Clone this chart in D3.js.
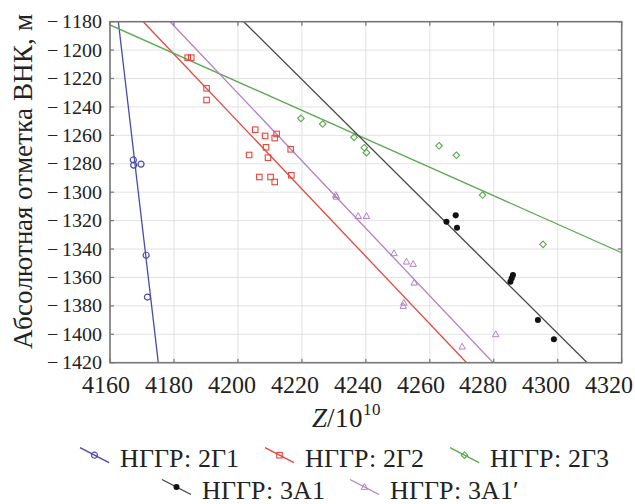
<!DOCTYPE html>
<html>
<head>
<meta charset="utf-8">
<script src="https://cdn.jsdelivr.net/npm/d3@7"></script>
<style>
  @font-face { font-family: "ChartSerif"; src: local("Liberation Serif"), local("LiberationSerif"), local("LiberationSerif-Regular"), local("Tinos"), local("FreeSerif"); }
  @font-face { font-family: "ChartSerif"; font-style: italic; src: local("Liberation Serif Italic"), local("LiberationSerif-Italic"), local("FreeSerif Italic"); }
  body { margin: 0; font-family: ChartSerif, "Liberation Serif", Tinos, FreeSerif, "Times New Roman", serif; }
  text { font-family: ChartSerif, "Liberation Serif", Tinos, FreeSerif, "Times New Roman", serif; }
</style>
</head>
<body>
<div id="chart"></div>
<script>
// axis ticks
var xTicks = [4160, 4180, 4200, 4220, 4240, 4260, 4280, 4300, 4320];
var yTicks = [-1180, -1200, -1220, -1240, -1260, -1280, -1300, -1320, -1340, -1360, -1380, -1400, -1420];

// series names
var seriesNames = ["НГГР: 2Г1", "НГГР: 2Г2", "НГГР: 2Г3", "НГГР: 3А1", "НГГР: 3А1′"];

// points, [Z/10^10, depth]
var pts2G1 = [[4167.3, -1277.3], [4167.4, -1280.9], [4169.7, -1280.2], [4171.3, -1344.4], [4171.7, -1373.8]];
var pts2G2 = [[4184.3, -1205.3], [4185.4, -1205.3], [4190.2, -1226.9], [4190.2, -1235.1],
  [4205.4, -1256.0], [4208.5, -1260.4], [4211.5, -1261.9], [4212.1, -1259.0], [4203.5, -1273.8],
  [4208.8, -1268.4], [4209.4, -1275.7], [4216.5, -1269.8], [4206.7, -1289.3], [4210.2, -1289.3],
  [4211.5, -1292.8], [4216.7, -1288.1]];
var pts2G3 = [[4219.7, -1248.0], [4226.5, -1252.0], [4236.3, -1261.4], [4239.5, -1268.7], [4240.2, -1272.2],
  [4262.9, -1267.3], [4268.3, -1274.0], [4276.5, -1302.0], [4295.4, -1336.7]];
var pts3A1 = [[4265.2, -1320.8], [4268.1, -1316.3], [4268.5, -1325.0], [4286.0, -1358.3], [4285.6, -1360.6],
  [4285.2, -1363.0], [4293.8, -1390.0], [4298.8, -1403.5]];
var pts3A1p = [[4230.6, -1302.0], [4230.8, -1303.2], [4237.6, -1316.8], [4240.2, -1316.8], [4248.8, -1343.0],
  [4252.7, -1348.9], [4254.8, -1350.5], [4255.1, -1363.7], [4251.9, -1377.8], [4251.7, -1380.1],
  [4280.6, -1400.0], [4270.1, -1408.7]];

// fitted lines, two end points each
var fit2G1 = [[4162.6, -1180], [4175.1, -1420]];
var fit2G2 = [[4170.4, -1180], [4271.5, -1420]];
var fit2G3 = [[4160, -1182.3], [4320, -1342.6]];
var fit3A1 = [[4201.8, -1180], [4309.2, -1420]];
var fit3A1p = [[4178.8, -1180], [4279.8, -1420]];

var colors = ["#4b4ba8", "#e5473e", "#5aa84f", "#111111", "#b37fc4"];
var lineColors = ["#4b4ba8", "#e5473e", "#5aa84f", "#444444", "#b37fc4"];
var shapes = ["circle", "square", "diamond", "dot", "triangle"];

var series = seriesNames.map(function(name, i) {
  return {
    name: name,
    points: [pts2G1, pts2G2, pts2G3, pts3A1, pts3A1p][i],
    fit: [fit2G1, fit2G2, fit2G3, fit3A1, fit3A1p][i],
    color: colors[i],
    lineColor: lineColors[i],
    shape: shapes[i]
  };
});

var width = 635;
var height = 504;
var margin = {top: 21.7, right: 13.3, bottom: 141.3, left: 110};
var innerW = width - margin.left - margin.right;
var innerH = height - margin.top - margin.bottom;

var svg = d3.select("#chart")
  .append("svg")
  .attr("width", width)
  .attr("height", height);

var x = d3.scaleLinear().domain([4160, 4320]).range([0, innerW]);
var y = d3.scaleLinear().domain([-1180, -1420]).range([0, innerH]);
// label positions drift slightly left of the gridlines in the original
var xLab = x.copy().range([-3.7, innerW - 12.5]);

var g = svg.append("g")
  .attr("transform", "translate(" + margin.left + "," + margin.top + ")");

svg.append("defs").append("clipPath")
  .attr("id", "plotClip")
  .append("rect")
  .attr("width", innerW)
  .attr("height", innerH);

// grid
var grid = g.append("g").style("stroke", "#e2e2e2").style("stroke-width", 1);
grid.selectAll(".vx")
  .data(xTicks)
  .enter()
  .append("line")
  .attr("x1", function(d){ return x(d); })
  .attr("x2", function(d){ return x(d); })
  .attr("y1", 0)
  .attr("y2", innerH);
grid.selectAll(".hy")
  .data(yTicks)
  .enter()
  .append("line")
  .attr("x1", 0)
  .attr("x2", innerW)
  .attr("y1", function(d){ return y(d); })
  .attr("y2", function(d){ return y(d); });

// symbol drawing
function drawMarker(sel, shape, color, size) {
  if (shape === "circle") {
    sel.append("circle").attr("r", size * 0.55)
      .style("fill", "none").style("stroke", color).style("stroke-width", 1.2);
  } else if (shape === "square") {
    sel.append("rect").attr("x", -size / 2).attr("y", -size / 2)
      .attr("width", size).attr("height", size)
      .style("fill", "none").style("stroke", color).style("stroke-width", 1.1);
  } else if (shape === "diamond") {
    var s = size * 0.6;
    sel.append("path").attr("d", "M0," + (-s) + "L" + s + ",0L0," + s + "L" + (-s) + ",0Z")
      .style("fill", "none").style("stroke", color).style("stroke-width", 1.1);
  } else if (shape === "dot") {
    sel.append("circle").attr("r", size * 0.55).style("fill", color);
  } else if (shape === "triangle") {
    var t = size * 0.62;
    sel.append("path").attr("d", "M0," + (-t) + "L" + (t * 0.95) + "," + (t * 0.7) + "L" + (-t * 0.95) + "," + (t * 0.7) + "Z")
      .style("fill", "none").style("stroke", color).style("stroke-width", 1.0);
  }
}

var plot = g.append("g").attr("clip-path", "url(#plotClip)");

// fitted lines
var line = d3.line()
  .x(function(d){ return x(d[0]); })
  .y(function(d){ return y(d[1]); });

plot.selectAll(".fitLine")
  .data(series)
  .enter()
  .append("path")
  .attr("class", "fitLine")
  .attr("d", function(d){ return line(d.fit); })
  .style("fill", "none")
  .style("stroke", function(d){ return d.lineColor; })
  .style("stroke-width", 1.3);

// points
series.forEach(function(s) {
  plot.selectAll(null)
    .data(s.points)
    .enter()
    .append("g")
    .attr("transform", function(d){ return "translate(" + x(d[0]) + "," + y(d[1]) + ")"; })
    .each(function(){ drawMarker(d3.select(this), s.shape, s.color, 5.5); });
});

// frame and inward ticks
g.append("rect")
  .attr("width", innerW)
  .attr("height", innerH)
  .style("fill", "none")
  .style("stroke", "#777")
  .style("stroke-width", 1.6);

var tl = 4;
var ticksG = g.append("g").style("stroke", "#777").style("stroke-width", 1.2);
xTicks.forEach(function(d) {
  ticksG.append("line").attr("x1", x(d)).attr("x2", x(d)).attr("y1", 0).attr("y2", tl);
  ticksG.append("line").attr("x1", x(d)).attr("x2", x(d)).attr("y1", innerH).attr("y2", innerH - tl);
});
yTicks.forEach(function(d) {
  ticksG.append("line").attr("y1", y(d)).attr("y2", y(d)).attr("x1", 0).attr("x2", tl);
  ticksG.append("line").attr("y1", y(d)).attr("y2", y(d)).attr("x1", innerW).attr("x2", innerW - tl);
});

// tick labels
g.selectAll(".yLabel")
  .data(yTicks)
  .enter()
  .append("text")
  .attr("x", -8)
  .attr("y", function(d){ return y(d); })
  .attr("dy", "0.33em")
  .attr("text-anchor", "end")
  .style("font-size", "20px")
  .style("fill", "#222")
  .text(function(d){ return "\u2212\u2009" + Math.abs(d); });

g.selectAll(".xLabel")
  .data(xTicks)
  .enter()
  .append("text")
  .attr("x", function(d){ return xLab(d); })
  .attr("y", innerH + 30)
  .attr("text-anchor", "middle")
  .style("font-size", "24px")
  .style("fill", "#222")
  .text(function(d){ return d; });

// axis titles
var xTitle = svg.append("text")
  .attr("x", 312)
  .attr("y", 426.7)
  .style("font-size", "27px")
  .style("fill", "#222");
xTitle.append("tspan").style("font-style", "italic").text("Z");
xTitle.append("tspan").text("/10");
xTitle.append("tspan").attr("dy", -12).style("font-size", "17px").text("10");

svg.append("text")
  .attr("transform", "translate(32," + 181 + ") rotate(-90)")
  .attr("text-anchor", "middle")
  .style("font-size", "27px")
  .style("fill", "#222")
  .text("Абсолютная отметка ВНК, м");

// legend
var legendPos = [[80, 466.7], [265, 466.7], [450, 466.7], [162, 498.5], [350, 498.5]];
series.forEach(function(s, i) {
  var lg = svg.append("g")
    .attr("transform", "translate(" + legendPos[i][0] + "," + legendPos[i][1] + ")");
  lg.append("line")
    .attr("x1", 0).attr("y1", -19)
    .attr("x2", 29).attr("y2", -4)
    .style("stroke", s.lineColor)
    .style("stroke-width", 1.4);
  var m = lg.append("g").attr("transform", "translate(14.5,-11.5)");
  drawMarker(m, s.shape, s.color, 5.5);
  lg.append("text")
    .attr("x", 40)
    .attr("y", 0)
    .style("font-size", "26px")
    .style("fill", "#222")
    .text(s.name);
});
</script>
</body>
</html>
